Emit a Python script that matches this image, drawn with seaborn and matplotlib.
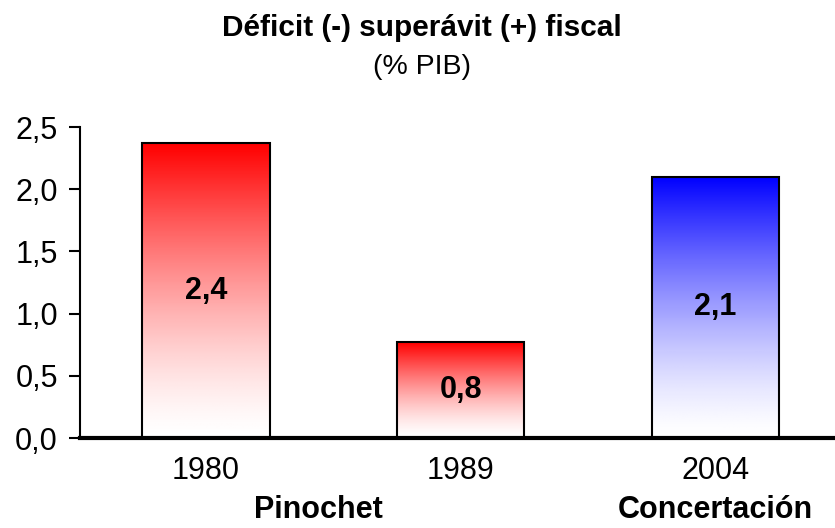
import numpy as np
import pandas as pd
import matplotlib
matplotlib.use("Agg")
import matplotlib.pyplot as plt
import seaborn as sns
from matplotlib.colors import LinearSegmentedColormap

years = ["1980", "1989", "2004"]
values = [2.37, 0.77, 2.10]
top_colors = ["#ff0000", "#ff0000", "#0000ff"]
groups = ["Pinochet", "Concertación"]
group_pos = [0.44, 2.0]
title = "Déficit (-) superávit (+) fiscal"
subtitle = "(% PIB)"
yticks = [0.0, 0.5, 1.0, 1.5, 2.0, 2.5]

sns.set_theme(style="white")
plt.rcParams["font.family"] = ["Liberation Sans", "DejaVu Sans"]

df = pd.DataFrame({"year": years, "value": values})

fig = plt.figure(figsize=(8.35, 5.28), dpi=100)
ax = fig.add_axes([80/835, 90/528, 755/835, 311/528])

sns.barplot(data=df, x="year", y="value", color="white", width=0.5,
            edgecolor="black", linewidth=1.5, ax=ax, zorder=3)

for patch, col in zip(ax.patches, top_colors):
    x0, y0 = patch.get_x(), patch.get_y()
    w, h = patch.get_width(), patch.get_height()
    cmap = LinearSegmentedColormap.from_list("g", ["white", col])
    grad = (np.linspace(0, 1, 256) ** 1.4).reshape(-1, 1)
    im = ax.imshow(grad, cmap=cmap, aspect="auto", origin="lower",
                   extent=[x0, x0 + w, y0, y0 + h], zorder=2,
                   vmin=0, vmax=1)
    im.set_clip_path(patch)
    patch.set_facecolor("none")
    ax.text(x0 + w / 2, y0 + h / 2, f"{h:.1f}".replace(".", ","),
            ha="center", va="center", fontsize=22, fontweight="bold",
            color="black", zorder=4)

ax.set_xlim(-0.495, 2.47)
ax.set_ylim(0, 2.5)
ax.set_yticks(yticks)
ax.set_yticklabels([f"{t:.1f}".replace(".", ",") for t in yticks])
ax.set_xlabel("")
ax.set_ylabel("")
ax.tick_params(axis="y", which="both", left=True, length=8, width=1.5,
               direction="out", pad=8, labelsize=22, colors="black")
ax.tick_params(axis="x", bottom=False, length=0, pad=13, labelsize=22,
               colors="black")
for s in ["top", "right"]:
    ax.spines[s].set_visible(False)
ax.spines["left"].set_linewidth(1.5)
ax.spines["left"].set_color("black")
ax.spines["bottom"].set_linewidth(3)
ax.spines["bottom"].set_color("black")
ax.grid(False)

for g, xp in zip(groups, group_pos):
    ax.text(xp, -0.575, g, ha="center", va="center", fontsize=22,
            fontweight="bold", color="black")

fig.text(0.505, 1 - 28/528, title, ha="center", va="center", fontsize=21.4,
         fontweight="bold", color="black")
fig.text(0.505, 1 - 67/528, subtitle, ha="center", va="center", fontsize=20.5,
         color="black")

fig.savefig("out.png", dpi=100, facecolor="white")
